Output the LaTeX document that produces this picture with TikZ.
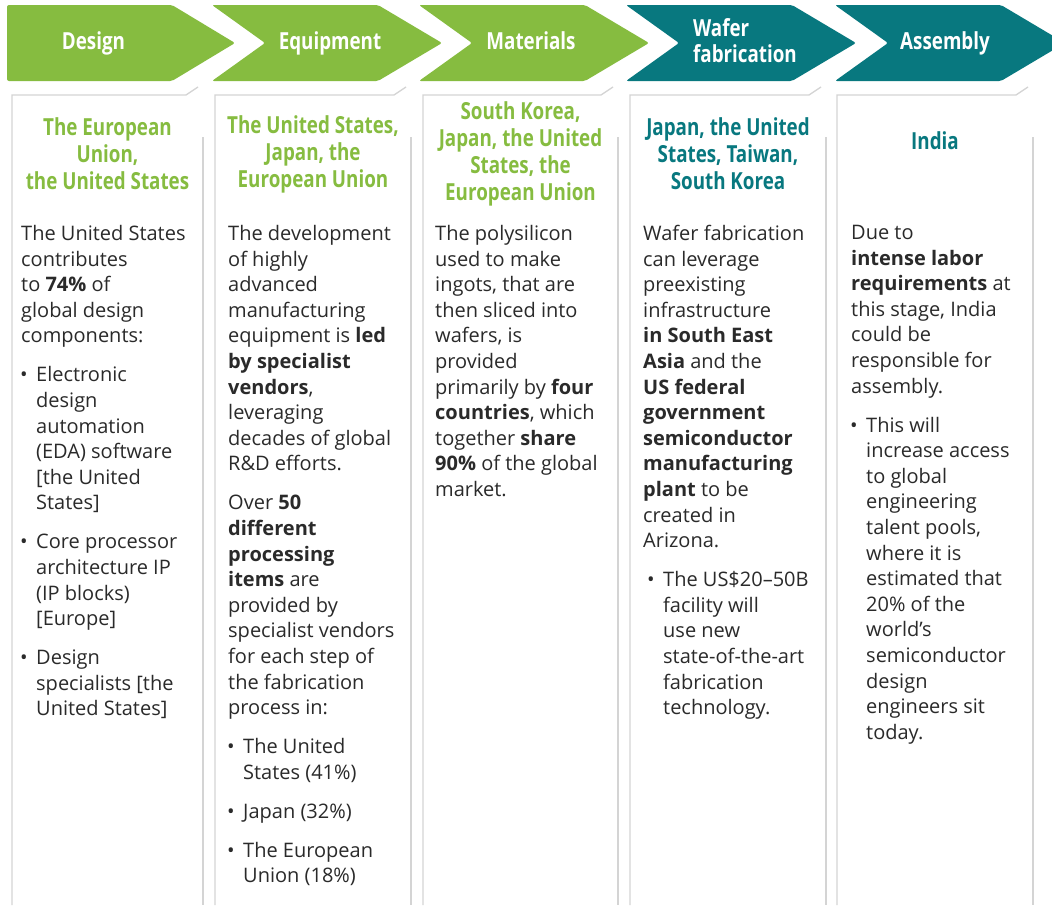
\documentclass[tikz,border=0pt]{standalone}
\usepackage{fontspec}
\setmainfont{Open Sans}
\newfontfamily\condfont[FakeStretch=0.8]{Open Sans}
\usepackage{xcolor}
\definecolor{stepgreen}{HTML}{86BC40}
\definecolor{stepteal}{HTML}{08787F}
\definecolor{framegray}{HTML}{D4D4D4}
\definecolor{bodyink}{HTML}{2A2A2A}
\newcommand{\bul}{\makebox[15pt][l]{\hspace*{-1pt}\fontsize{20}{20}\selectfont\textbullet}}
\newcommand{\bi}{\hspace*{15pt}}
\newcommand{\colframe}[2]{%
  \draw[framegray, line width=1.3pt] (#1,905) -- (#1,95) -- (#2-17,95) -- (#2-5,87);
  \draw[framegray, line width=1.3pt] (#2,137) -- (#2,905);}

\begin{document}
\begin{tikzpicture}[x=1pt, y=-1pt,
  chev/.style={rounded corners=2pt},
  steplabel/.style={font=\fontsize{23.5}{26}\selectfont\condfont\bfseries, text=white, align=left, inner sep=0pt},
  region/.style={font=\fontsize{23.5}{27}\selectfont\condfont\bfseries, align=center, inner sep=0pt},
  bodytext/.style={font=\fontsize{20}{25.6}\selectfont, text=bodyink, align=left, anchor=north west, inner sep=0pt}]
\clip (0,0) rectangle (1052,905);
\fill[white] (0,0) rectangle (1052,905);
% Chevrons
\fill[stepgreen, chev] (7,5) -- (172,5) -- (235,43) -- (172,81) -- (7,81) -- cycle;
\fill[stepgreen, chev] (212,5) -- (378,5) -- (442,43) -- (378,81) -- (212,81) -- (265,43) -- cycle;
\fill[stepgreen, chev] (419,5) -- (585,5) -- (649,43) -- (585,81) -- (419,81) -- (472,43) -- cycle;
\fill[stepteal, chev] (626,5) -- (792,5) -- (856,43) -- (792,81) -- (626,81) -- (679,43) -- cycle;
\fill[stepteal, chev] (835,5) -- (1001,5) -- (1065,43) -- (1001,81) -- (835,81) -- (888,43) -- cycle;
\node[steplabel, anchor=base] (design) at (93.5,49) {Design};
\node[steplabel, anchor=base] (equip) at (330,49) {Equipment};
\node[steplabel, anchor=base] (mater) at (531,49) {Materials};
\node[steplabel] (wafer) at (745,41) {Wafer\\fabrication};
\node[steplabel, anchor=base] (assem) at (945,49) {Assembly};
% Column frames
\colframe{12}{203}
\colframe{215}{411}
\colframe{423}{618}
\colframe{630}{826}
\colframe{837}{1033}
% Regions
\node[region, text=stepgreen] (designreg) at (107.5,154) {The European\\Union,\\the United States};
\node[region, text=stepgreen] (equipreg) at (313,154) {The United States,\\Japan, the\\European Union};
\node[region, text=stepgreen] (materreg) at (520.5,154) {South Korea,\\Japan, the United\\States, the\\European Union};
\node[region, text=stepteal] (waferreg) at (728,154) {Japan, the United\\States, Taiwan,\\South Korea};
\node[region, text=stepteal] (assemreg) at (935,141) {India};
% Column texts
\node[bodytext] (designtxt) at (21,225) {The United States\\contributes\\to \textbf{74\%} of\\global design\\components:\\[13.4pt]
\bul Electronic\\\bi design\\\bi automation\\\bi (EDA) software\\\bi [the United\\\bi States]\\[13.4pt]
\bul Core processor\\\bi architecture IP\\\bi (IP blocks)\\\bi [Europe]\\[13.4pt]
\bul Design\\\bi specialists [the\\\bi United States]};
\node[bodytext] (equiptxt) at (228,225) {The development\\of highly\\advanced\\manufacturing\\equipment is \textbf{led}\\\textbf{by specialist}\\\textbf{vendors},\\leveraging\\decades of global\\R\&D efforts.\\[13.4pt]
Over \textbf{50}\\\textbf{different}\\\textbf{processing}\\\textbf{items} are\\provided by\\specialist vendors\\for each step of\\the fabrication\\process in:\\[13.4pt]
\bul The United\\\bi States (41\%)\\[13.4pt]
\bul Japan (32\%)\\[13.4pt]
\bul The European\\\bi Union (18\%)};
\node[bodytext] (matertxt) at (435,225) {The polysilicon\\used to make\\ingots, that are\\then sliced into\\wafers, is\\provided\\primarily by \textbf{four}\\\textbf{countries}, which\\together \textbf{share}\\\textbf{90\%} of the global\\market.};
\node[bodytext] (wafertxt) at (643,225) {Wafer fabrication\\can leverage\\preexisting\\infrastructure\\\textbf{in South East}\\\textbf{Asia} and the\\\textbf{US federal}\\\textbf{government}\\\textbf{semiconductor}\\\textbf{manufacturing}\\\textbf{plant} to be\\created in\\Arizona.\\[13.4pt]
\hspace*{5pt}\bul The US\$20–50B\\\hspace*{5pt}\bi facility will\\\hspace*{5pt}\bi use new\\\hspace*{5pt}\bi state-of-the-art\\\hspace*{5pt}\bi fabrication\\\hspace*{5pt}\bi technology.};
\node[bodytext] (assemtxt) at (851,225) {Due to\\\textbf{intense labor}\\\textbf{requirements} at\\this stage, India\\could be\\responsible for\\assembly.\\[13.4pt]
\bul This will\\\bi increase access\\\bi to global\\\bi engineering\\\bi talent pools,\\\bi where it is\\\bi estimated that\\\bi 20\% of the\\\bi world’s\\\bi semiconductor\\\bi design\\\bi engineers sit\\\bi today.};
\end{tikzpicture}
\end{document}
